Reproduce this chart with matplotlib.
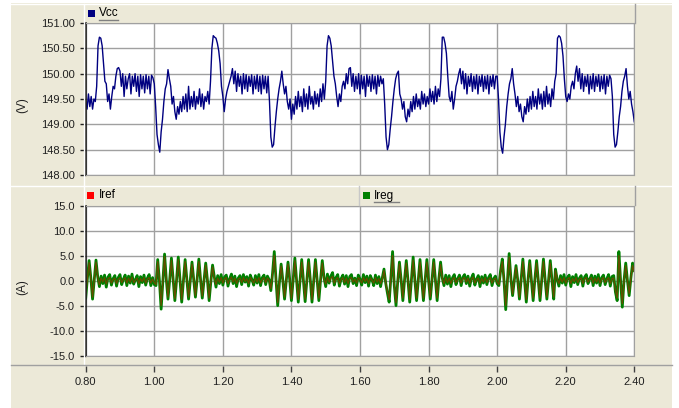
import numpy as np
import matplotlib
matplotlib.use('Agg')
from matplotlib import pyplot as plt
from matplotlib.lines import Line2D
from matplotlib.patches import Rectangle
from matplotlib.ticker import FormatStrFormatter

plt.rcParams['font.family'] = 'Liberation Sans'
plt.rcParams['axes.unicode_minus'] = False

# Messdaten (Zeit in s)
t_start, t_end = 0.80, 2.40

# Zwischenkreisspannung Vcc, Abtastung 4 ms
vcc = [149.45, 149.30, 149.60, 149.35, 149.55, 149.30, 149.50, 149.45, 149.75, 150.55, 150.72, 150.70, 150.55, 150.20, 149.85, 149.80, 149.45, 149.60, 149.30, 149.55, 149.75, 149.70, 149.95, 150.10, 150.12,
       150.05, 149.75, 150.00, 149.55, 149.95, 149.70, 149.90, 150.00, 149.60, 149.95, 149.75, 150.00, 149.65, 149.95, 149.55, 149.98, 149.70, 149.95, 149.62, 149.98, 149.70, 149.95, 149.60, 149.97, 149.92,
       149.80, 149.35, 148.80, 148.60, 148.45, 148.85, 149.10, 149.45, 149.70, 149.80, 150.08, 149.90, 149.75, 149.40, 149.55, 149.25, 149.10, 149.35, 149.20, 149.45, 149.25, 149.55, 149.30, 149.60, 149.25,
       149.75, 149.30, 149.55, 149.35, 149.65, 149.30, 149.55, 149.40, 149.70, 149.35, 149.60, 149.30, 149.55, 149.45, 149.65, 149.40, 149.85, 150.50, 150.75, 150.72, 150.70, 150.60, 150.45, 150.20, 149.75,
       149.55, 149.25, 149.50, 149.65, 149.75, 149.85, 149.95, 150.10, 149.80, 150.05, 149.65, 150.00, 149.75, 149.95, 149.60, 150.00, 149.70, 149.98, 149.65, 149.95, 149.75, 149.98, 149.60, 149.95, 149.70,
       149.98, 149.65, 149.95, 149.60, 149.97, 149.70, 149.95, 149.62, 149.95, 149.45, 148.75, 148.55, 148.60, 148.95, 149.25, 149.50, 149.70, 149.85, 150.05, 149.80, 149.60, 149.75, 149.45, 149.30, 149.50,
       149.10, 149.40, 149.20, 149.55, 149.30, 149.65, 149.35, 149.55, 149.25, 149.70, 149.35, 149.60, 149.30, 149.75, 149.40, 149.55, 149.30, 149.65, 149.40, 149.60, 149.35, 149.70, 149.45, 149.80, 149.50,
       149.85, 150.55, 150.75, 150.70, 150.55, 150.25, 149.95, 149.80, 149.55, 149.35, 149.60, 149.45, 149.75, 149.85, 149.70, 150.00, 149.80, 150.10, 150.12, 149.75, 150.00, 149.65, 149.95, 149.70, 150.00,
       149.60, 149.97, 149.70, 149.95, 149.55, 149.98, 149.75, 149.95, 149.65, 149.98, 149.70, 149.95, 149.60, 149.97, 149.75, 149.95, 149.80, 149.90, 149.40, 148.75, 148.50, 148.60, 148.90, 149.15, 149.45,
       149.70, 149.90, 150.00, 150.05, 149.60, 149.50, 149.30, 149.45, 149.15, 149.05, 149.30, 149.15, 149.45, 149.25, 149.55, 149.30, 149.60, 149.35, 149.50, 149.30, 149.65, 149.40, 149.60, 149.35, 149.55,
       149.40, 149.70, 149.45, 149.65, 149.40, 149.75, 149.45, 149.70, 149.55, 149.90, 150.72, 150.72, 150.60, 150.40, 149.95, 149.55, 149.45, 149.65, 149.30, 149.50, 149.75, 149.85, 150.00, 150.10, 149.80,
       150.05, 149.70, 150.00, 149.60, 149.95, 149.75, 150.00, 149.65, 149.95, 149.70, 149.98, 149.60, 149.95, 149.75, 149.98, 149.65, 149.95, 149.70, 149.97, 149.60, 149.95, 149.75, 149.98, 149.70, 149.95,
       149.95, 149.50, 148.85, 148.55, 148.43, 148.75, 149.00, 149.35, 149.60, 149.80, 149.90, 150.10, 149.80, 149.60, 149.35, 149.55, 149.25, 149.40, 149.15, 149.05, 149.35, 149.20, 149.50, 149.25, 149.55,
       149.30, 149.65, 149.35, 149.55, 149.30, 149.70, 149.40, 149.60, 149.30, 149.65, 149.35, 149.75, 149.40, 149.60, 149.35, 149.70, 149.50, 149.85, 150.00, 150.70, 150.75, 150.72, 150.60, 150.35, 149.90,
       149.55, 149.45, 149.60, 149.50, 149.75, 149.85, 149.70, 150.00, 150.15, 149.85, 150.10, 149.70, 150.00, 149.65, 149.95, 149.75, 149.98, 149.60, 149.95, 149.70, 150.00, 149.65, 149.95, 149.75, 149.98,
       149.65, 149.95, 149.70, 149.98, 149.60, 149.95, 149.75, 149.97, 149.90, 149.55, 148.80, 148.55, 148.60, 148.85, 149.15, 149.35, 149.65, 149.85, 149.95, 150.10, 149.75, 149.50, 149.65, 149.40, 149.25,
       149.05]

# Stroeme Ireg und Iref, Abtastung 5 ms
ireg = [-3.5, 0.5, 4.0, 0.5, -3.7, 0.3, 4.1, 0.8, -1.2, 0.9, -0.6, 1.1, -1.3, 0.7, 1.2, -0.9, 0.4, 1.0, -1.1, 0.6,
        1.2, -0.8, 0.3, 1.1, -1.0, 0.9, -0.5, 1.3, -0.7, 0.2, 1.0, -1.2, 0.8, -0.4, 1.1, -0.9, 0.5, 1.2, -1.0, 0.6,
        -0.8, -1.0, 4.2, 0.0, -5.7, -0.2, 5.3, 0.3, -3.7, 0.2, 4.5, 0.2, -4.0, 0.1, 4.7, 0.3, -4.3, -0.1, 4.2, 0.2,
        -3.7, 0.1, 3.7, 0.2, -3.3, 0.3, 4.3, 0.2, -3.5, 0.0, 3.5, 0.1, -4.0, -0.2, 3.1, 0.8, -1.3, 1.0, -0.6, 1.2,
        -0.9, 0.7, 1.1, -1.1, 0.4, 1.3, -0.6, 0.9, -1.2, 0.5, 1.0, -0.8, 1.2, -0.3, 0.8, -1.1, 1.1, 0.2, -0.9, 1.0,
        -0.5, 1.2, -1.0, 0.6, 1.1, -0.8, 0.9, 0.2, -2.0, 1.5, 5.8, 0.2, -5.0, -0.3, 3.3, 0.0, -3.7, 0.1, 3.7, 0.2,
        -4.0, 0.1, 4.5, 0.2, -4.3, -0.1, 4.2, 0.1, -4.2, 0.0, 4.2, 0.2, -4.3, -0.1, 4.2, 0.1, -4.0, 0.2, 4.0, 0.6,
        -1.2, 1.3, -0.5, 0.9, 1.6, -0.9, 0.6, 1.2, -1.1, 0.4, 1.1, -0.7, 1.0, -1.2, 0.8, 1.2, -0.6, 0.5, -1.0, 1.1,
        0.3, -0.9, 1.2, -0.4, 0.9, -1.1, 1.0, 0.2, -1.0, 1.1, -0.6, 0.8, -1.2, 0.5, 2.3, -0.5, -2.5, -4.3, 0.5, 5.8,
        -1.0, -5.0, -0.2, 3.7, 0.1, -4.0, 0.2, 4.0, 0.0, -4.3, 0.2, 4.7, 0.1, -4.0, 0.2, 4.2, 0.0, -4.0, 0.2, 4.2,
        0.0, -3.7, 0.1, 4.2, 0.0, -4.0, 0.3, 3.7, 0.5, -1.0, 1.1, -0.7, 1.0, -1.2, 0.6, 1.2, -0.8, 0.4, 1.1, -1.0,
        0.7, 1.2, -0.6, 0.9, -1.1, 0.5, 1.3, -0.9, 0.3, 1.0, -1.2, 0.8, -0.5, 1.1, -0.8, 0.6, 1.2, -1.0, 0.4, 0.9,
        -0.6, -1.0, 2.0, 4.3, 0.0, -5.8, 0.0, 5.4, 0.5, -3.0, 0.0, 3.0, 0.1, -3.7, 0.2, 4.3, 0.0, -4.3, 0.1, 4.0,
        0.0, -4.0, 0.2, 4.0, 0.0, -4.0, 0.2, 4.3, 0.1, -3.7, 0.2, 4.0, 0.0, -3.7, 2.3, 0.3, -1.1, 1.0, -0.5, 1.2,
        -0.9, 0.6, 1.1, -1.2, 0.8, -0.4, 1.2, -0.8, 0.5, 1.0, -1.1, 0.7, 1.2, -0.6, 0.3, 1.1, -1.0, 0.9, -0.5, 1.2,
        -1.0, 0.6, 1.1, -0.8, 0.4, 1.2, -1.1, 0.8, 1.0, -2.3, -4.0, 5.8, 0.0, -5.3, 0.0, 3.5, 0.0, -3.0, 0.5, 3.5,
        2.0]

iref = [-3.0, 0.3, 3.6, 0.4, -3.3, 0.2, 3.7, 0.6, -0.8, 0.5, -0.3, 0.6, -0.7, 0.4, 0.6, -0.5, 0.2, 0.5, -0.6, 0.3,
        0.6, -0.4, 0.2, 0.6, -0.5, 0.5, -0.3, 0.7, -0.4, 0.1, 0.5, -0.6, 0.4, -0.2, 0.6, -0.5, 0.3, 0.6, -0.5, 0.3,
        -0.4, -0.8, 3.8, 0.0, -5.0, -0.2, 4.8, 0.3, -3.3, 0.2, 4.0, 0.2, -3.6, 0.1, 4.2, 0.3, -3.8, -0.1, 3.8, 0.2,
        -3.3, 0.1, 3.3, 0.2, -3.0, 0.3, 3.8, 0.2, -3.1, 0.0, 3.1, 0.1, -3.5, -0.2, 2.7, 0.5, -0.8, 0.5, -0.3, 0.6,
        -0.5, 0.4, 0.6, -0.6, 0.2, 0.7, -0.3, 0.5, -0.6, 0.3, 0.5, -0.4, 0.6, -0.2, 0.4, -0.6, 0.6, 0.1, -0.5, 0.5,
        -0.3, 0.6, -0.5, 0.3, 0.6, -0.4, 0.5, 0.1, -1.6, 1.3, 5.0, 0.2, -4.4, -0.3, 2.9, 0.0, -3.3, 0.1, 3.3, 0.2,
        -3.6, 0.1, 4.0, 0.2, -3.8, -0.1, 3.7, 0.1, -3.7, 0.0, 3.7, 0.2, -3.8, -0.1, 3.7, 0.1, -3.5, 0.2, 3.5, 0.4,
        -0.7, 0.7, -0.3, 0.5, 0.8, -0.5, 0.3, 0.6, -0.6, 0.2, 0.6, -0.4, 0.5, -0.6, 0.4, 0.6, -0.3, 0.3, -0.5, 0.6,
        0.2, -0.5, 0.6, -0.2, 0.5, -0.6, 0.5, 0.1, -0.5, 0.6, -0.3, 0.4, -0.6, 0.3, 2.0, -0.4, -2.2, -3.8, 0.4, 5.0,
        -0.8, -4.4, -0.2, 3.3, 0.1, -3.5, 0.2, 3.5, 0.0, -3.8, 0.2, 4.1, 0.1, -3.5, 0.2, 3.7, 0.0, -3.5, 0.2, 3.7,
        0.0, -3.3, 0.1, 3.7, 0.0, -3.5, 0.3, 3.2, 0.4, -0.6, 0.6, -0.4, 0.5, -0.6, 0.3, 0.6, -0.4, 0.2, 0.6, -0.5,
        0.4, 0.6, -0.3, 0.5, -0.6, 0.3, 0.7, -0.5, 0.2, 0.5, -0.6, 0.4, -0.3, 0.6, -0.4, 0.3, 0.6, -0.5, 0.2, 0.5,
        -0.3, -0.8, 1.7, 3.8, 0.0, -5.0, 0.0, 4.7, 0.4, -2.7, 0.0, 2.7, 0.1, -3.3, 0.2, 3.8, 0.0, -3.8, 0.1, 3.5,
        0.0, -3.5, 0.2, 3.5, 0.0, -3.5, 0.2, 3.8, 0.1, -3.3, 0.2, 3.5, 0.0, -3.3, 2.0, 0.3, -0.6, 0.5, -0.3, 0.6,
        -0.5, 0.3, 0.6, -0.6, 0.4, -0.2, 0.6, -0.4, 0.3, 0.5, -0.6, 0.4, 0.6, -0.3, 0.2, 0.6, -0.5, 0.5, -0.3, 0.6,
        -0.5, 0.3, 0.6, -0.4, 0.2, 0.6, -0.6, 0.4, 0.5, -2.0, -3.5, 5.0, 0.0, -4.6, 0.0, 3.0, 0.0, -2.6, 0.4, 3.0,
        1.7]

x_ticks = [0.80, 1.00, 1.20, 1.40, 1.60, 1.80, 2.00, 2.20, 2.40]
v_ticks = [148.0, 148.5, 149.0, 149.5, 150.0, 150.5, 151.0]
i_ticks = [-15.0, -10.0, -5.0, 0.0, 5.0, 10.0, 15.0]

t_v = np.linspace(t_start, t_end, len(vcc))
t_i = np.linspace(t_start, t_end, len(ireg))

# Layout in Pixeln
W, H = 679, 408
BEIGE = '#ECE9D8'
GRID = '#A0A0A0'
DARK = '#202020'


def rect(x0, y0, x1, y1):
    return [x0 / W, 1 - y1 / H, (x1 - x0) / W, (y1 - y0) / H]


def fig_line(xs, ys, color, lw=1.0):
    fig.add_artist(Line2D([x / W for x in xs], [1 - y / H for y in ys],
                          transform=fig.transFigure, color=color, lw=lw, zorder=1))


def legend_item(x, y, color, label, underline=False):
    fig.add_artist(Rectangle(((x) / W, 1 - (y + 3.5) / H), 7 / W, 7 / H,
                             transform=fig.transFigure, facecolor=color, edgecolor='none', zorder=2))
    fig.text((x + 11) / W, 1 - y / H, label, fontsize=8.5, color='black', ha='left', va='center')
    if underline:
        fig_line([x + 11, x + 11 + 6.2 * len(label)], [y + 6.5, y + 6.5], '#808080')


fig = plt.figure(figsize=(W / 100, H / 100), dpi=100, facecolor='white')
fig.add_artist(Rectangle((11 / W, 0), 661 / W, 405 / H, transform=fig.transFigure,
                         facecolor=BEIGE, edgecolor='none', zorder=-10))

ax1 = fig.add_axes(rect(85.7, 23, 634.3, 175))
ax2 = fig.add_axes(rect(85.7, 205.5, 634.3, 355.7))

for ax in (ax1, ax2):
    ax.set_facecolor('white')
    ax.set_xlim(t_start, t_end)
    ax.set_xticks(x_ticks)
    ax.grid(True, color=GRID, lw=1)
    ax.set_axisbelow(True)
    ax.tick_params(axis='x', bottom=False, labelbottom=False)
    ax.tick_params(axis='y', direction='out', length=4, width=1, color=DARK,
                   labelsize=8, labelcolor=DARK, pad=4)
    for side in ('top', 'right', 'bottom'):
        ax.spines[side].set_color(GRID)
    ax.spines['left'].set_color(DARK)
    ax.spines['left'].set_linewidth(1.2)

# Spannung
ax1.plot(t_v, vcc, color='#000080', lw=1.0)
ax1.set_ylim(148.0, 151.0)
ax1.set_yticks(v_ticks)
ax1.yaxis.set_major_formatter(FormatStrFormatter('%.2f'))

# Stroeme
ax2.plot(t_i, ireg, color='#008000', lw=2.0)
ax2.plot(t_i, iref, color='#FF0000', lw=0.9, alpha=0.4)
ax2.set_ylim(-15.0, 15.0)
ax2.set_yticks(i_ticks)
ax2.yaxis.set_major_formatter(FormatStrFormatter('%.1f'))

# Gemeinsame Zeitachse unten
axx = fig.add_axes(rect(85.7, 365, 634.3, 365.5))
axx.set_xlim(t_start, t_end)
axx.set_xticks(x_ticks)
axx.xaxis.set_major_formatter(FormatStrFormatter('%.2f'))
axx.set_yticks([])
axx.patch.set_visible(False)
for side in axx.spines:
    axx.spines[side].set_visible(False)
axx.tick_params(axis='x', direction='out', length=4, width=1, color='#404040',
                labelsize=8, labelcolor=DARK, pad=4)

# Rahmen und Kopfzeilen
fig_line([11, 672], [4, 4], 'white')
fig_line([11, 672], [186, 186], 'white')
fig_line([84, 84], [4, 365], 'white')
fig_line([11, 672], [365, 365], GRID)
fig_line([634.5, 634.5], [4, 23], GRID)
fig_line([634.5, 634.5], [186, 205], GRID)
fig_line([359, 359], [186, 205], '#C8C8C8')

legend_item(88, 13.5, '#000080', 'Vcc', underline=True)
legend_item(87.5, 195, '#FF0000', 'Iref')
legend_item(363, 195.5, '#008000', 'Ireg', underline=True)

fig.text(22 / W, 1 - 105 / H, '(V)', rotation=90, fontsize=8.5, color=DARK, ha='center', va='center')
fig.text(22 / W, 1 - 287 / H, '(A)', rotation=90, fontsize=8.5, color=DARK, ha='center', va='center')

plt.savefig('out.png', dpi=100, facecolor=fig.get_facecolor())
